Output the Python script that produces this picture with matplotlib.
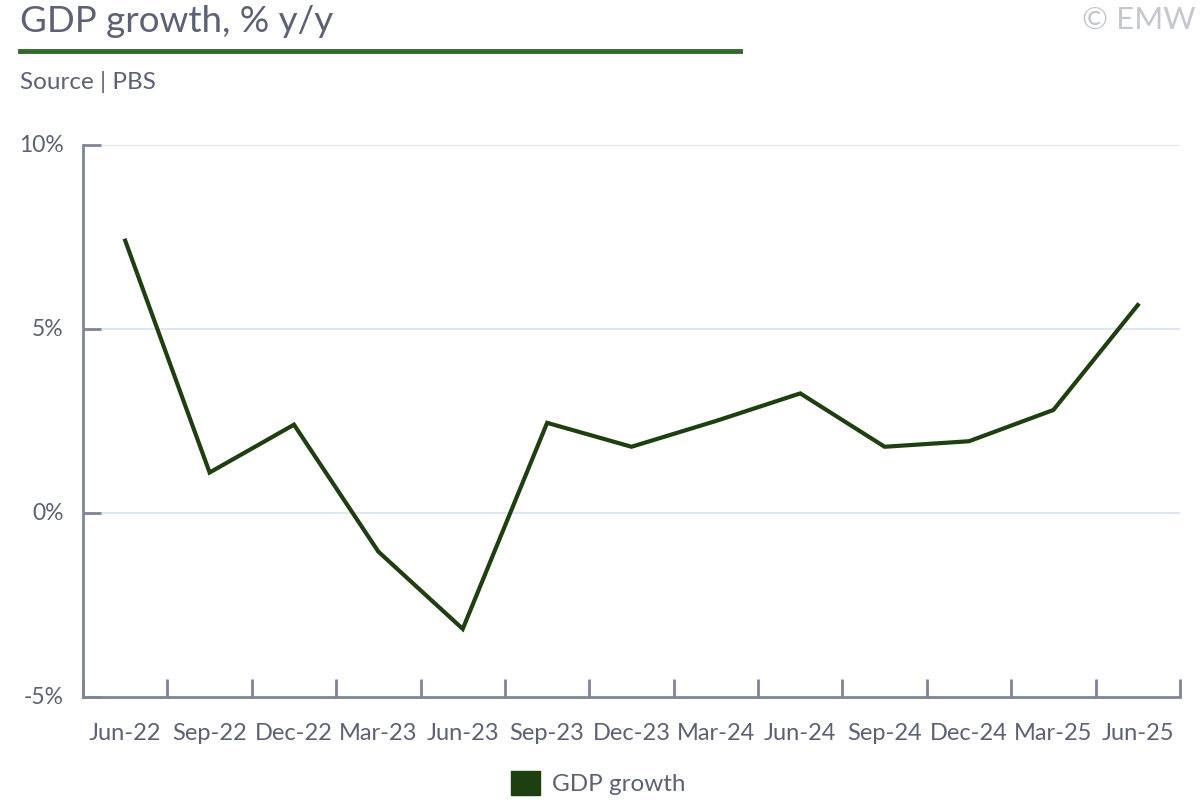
import matplotlib.pyplot as plt
from matplotlib.patches import Patch
from matplotlib.lines import Line2D

# data
quarters = ["Jun-22", "Sep-22", "Dec-22", "Mar-23", "Jun-23", "Sep-23", "Dec-23",
            "Mar-24", "Jun-24", "Sep-24", "Dec-24", "Mar-25", "Jun-25"]
gdp_growth = [7.4, 1.1, 2.4, -1.05, -3.15, 2.45, 1.8, 2.5, 3.25, 1.8, 1.95, 2.8, 5.65]
y_ticks = [-5, 0, 5, 10]

text_col = "#5c6175"
axis_col = "#7d8599"
grid_col = "#d9e5f0"
line_col = "#1e3f10"

plt.rcParams["font.family"] = ["Lato", "DejaVu Sans"]

fig = plt.figure(figsize=(12, 8), dpi=100)
ax = fig.add_axes([0.0692, 0.12875, 0.9141, 0.69])

x = list(range(len(quarters)))
ax.plot(x, gdp_growth, color=line_col, lw=3, solid_joinstyle="miter", zorder=3)

ax.set_xlim(-0.5, len(quarters) - 0.5)
ax.set_ylim(-5, 10)

# gridlines
for v in y_ticks[1:]:
    ax.axhline(v, color=grid_col, lw=1.3, zorder=1)

ax.set_yticks(y_ticks)
ax.set_yticklabels([f"{v}%" for v in y_ticks])
ax.tick_params(axis="y", direction="in", length=13, width=2, color=axis_col,
               labelsize=16.5, labelcolor=text_col, pad=14)
for lbl in ax.get_yticklabels():
    lbl.set_verticalalignment("center")

# x: ticks on category boundaries, labels at centers
ax.set_xticks([i - 0.5 for i in range(len(quarters) + 1)])
ax.set_xticklabels([])
ax.set_xticks(x, minor=True)
ax.set_xticklabels(quarters, minor=True)
ax.tick_params(axis="x", which="major", direction="in", length=13, width=2, color=axis_col)
ax.tick_params(axis="x", which="minor", length=0, labelsize=17, labelcolor=text_col, pad=19)

for s in ["top", "right"]:
    ax.spines[s].set_visible(False)
for s in ["left", "bottom"]:
    ax.spines[s].set_color(axis_col)
    ax.spines[s].set_linewidth(2)

# header
fig.text(20 / 1200, 1 - 22 / 800, "GDP growth, % y/y", fontsize=26.5, color=text_col,
         ha="left", va="center")
fig.add_artist(Line2D([20 / 1200, 740 / 1200], [1 - 51 / 800, 1 - 51 / 800],
                      color="#2f6a2a", lw=3.5))
fig.text(20 / 1200, 1 - 82 / 800, "Source | PBS", fontsize=17.5, color=text_col,
         ha="left", va="center")
fig.text(1 - 4 / 1200, 1 - 20 / 800, "© EMW", fontsize=22.5, color="#c4c7ce",
         ha="right", va="center")

# legend
fig.legend(handles=[Patch(facecolor=line_col, edgecolor=line_col, label="GDP growth")],
           loc="center", bbox_to_anchor=(598 / 1200, 1 - 783 / 800), frameon=False,
           fontsize=17.5, labelcolor=text_col, handlelength=1.2, handleheight=1.2,
           handletextpad=0.5)

fig.savefig("out.png", dpi=100)
